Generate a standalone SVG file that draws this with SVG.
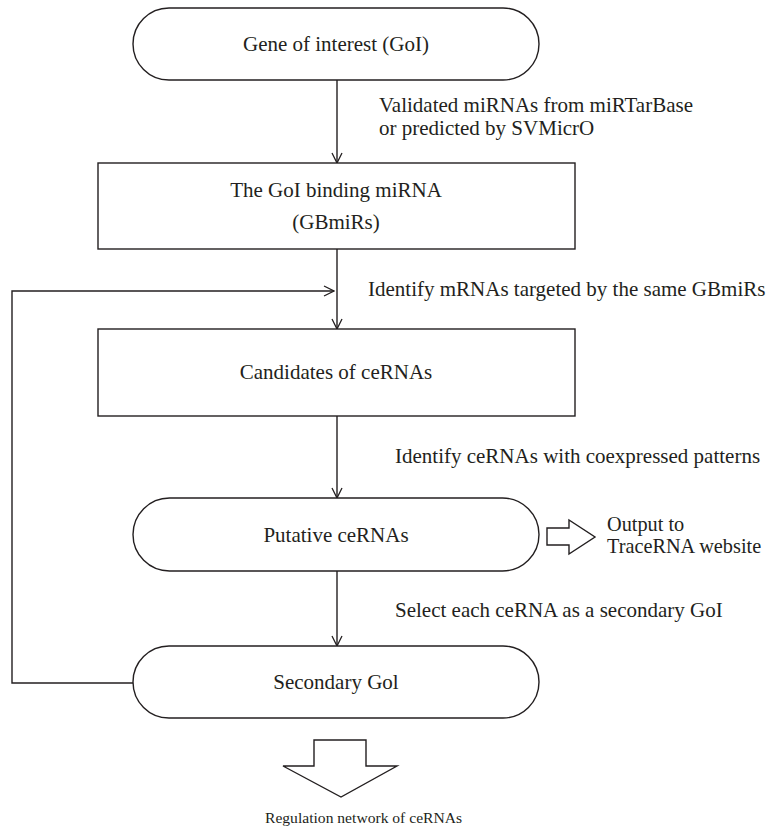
<svg xmlns="http://www.w3.org/2000/svg" width="766" height="833" viewBox="0 0 766 833">
<defs>
<style>
.shape{fill:#fff;stroke:#231f20;stroke-width:1.4}
.line{fill:none;stroke:#231f20;stroke-width:1.4}
.t{font-family:"Liberation Serif","Times New Roman",serif;font-size:21px;fill:#231f20}
.c{text-anchor:middle}
.s{font-size:15.6px}
.o{font-size:20.3px}
</style>
<marker id="ah" viewBox="0 0 12 12" refX="11" refY="6" markerWidth="12" markerHeight="12" markerUnits="userSpaceOnUse" orient="auto">
<path d="M1,1 L11,6 L1,11" fill="none" stroke="#231f20" stroke-width="1.3"/>
</marker>
</defs>
<rect width="766" height="833" fill="#fff"/>
<g id="connectors">
<line class="line" x1="337" y1="80" x2="337" y2="163" marker-end="url(#ah)"/>
<line class="line" x1="337" y1="249" x2="337" y2="329" marker-end="url(#ah)"/>
<line class="line" x1="337" y1="416" x2="337" y2="498" marker-end="url(#ah)"/>
<line class="line" x1="337" y1="571" x2="337" y2="646" marker-end="url(#ah)"/>
<path class="line" d="M133,683 H12 V291 H334" marker-end="url(#ah)"/>
<polygon class="shape" points="547,528 569,528 569,520 595,537 569,554 569,545 547,545"/>
<polygon class="shape" points="314,740 366,740 366,766 397,766 341,797 283,766 314,766"/>
<text class="t" x="379" y="112">Validated miRNAs from miRTarBase</text>
<text class="t" x="379" y="135">or predicted by SVMicrO</text>
<text class="t" x="368" y="296">Identify mRNAs targeted by the same GBmiRs</text>
<text class="t" x="395" y="463">Identify ceRNAs with coexpressed patterns</text>
<text class="t" x="395" y="617">Select each ceRNA as a secondary GoI</text>
</g>
<g id="node-goi">
<rect class="shape" x="133" y="8" width="406" height="72" rx="36" ry="36"/>
<text class="t c" x="336" y="51">Gene of interest (GoI)</text>
</g>
<g id="node-gbmirs">
<rect class="shape" x="98" y="163" width="477" height="86"/>
<text class="t c" x="336" y="197">The GoI binding miRNA</text>
<text class="t c" x="336" y="229">(GBmiRs)</text>
</g>
<g id="node-candidates">
<rect class="shape" x="98" y="329" width="477" height="87"/>
<text class="t c" x="336" y="379">Candidates of ceRNAs</text>
</g>
<g id="node-putative">
<rect class="shape" x="133" y="498" width="406" height="73" rx="36.5" ry="36.5"/>
<text class="t c" x="336" y="542">Putative ceRNAs</text>
</g>
<g id="node-output">
<text class="t o" x="607" y="531">Output to</text>
<text class="t o" x="607" y="553">TraceRNA website</text>
</g>
<g id="node-secondary">
<rect class="shape" x="133" y="646" width="406" height="72" rx="36" ry="36"/>
<text class="t c" x="336" y="689">Secondary Gol</text>
</g>
<g id="node-network">
<text class="t s" x="265" y="823">Regulation network of ceRNAs</text>
</g>
</svg>
